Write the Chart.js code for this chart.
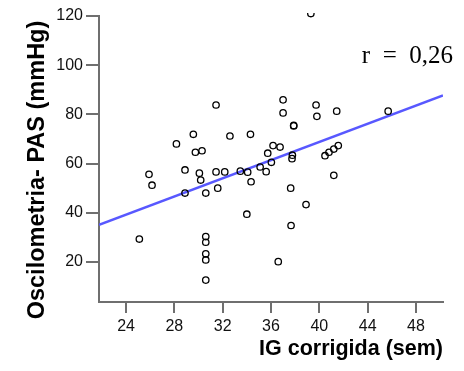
<!DOCTYPE html>
<html>
<head>
<meta charset="utf-8">
<script src="https://cdn.jsdelivr.net/npm/chart.js@4/dist/chart.umd.min.js"></script>
<style>
  body { margin: 0; background: #fff; }
</style>
</head>
<body>
<canvas id="scatter" width="464" height="371"></canvas>
<script>
// IG corrigida (semanas) vs Oscilometria PAS (mmHg)
const igSem = [31.45, 29.57, 28.17, 29.74, 30.29, 32.6, 25.9, 26.15, 28.88, 30.07, 30.18, 31.45, 32.17, 31.59, 28.88, 30.6,
    39.3, 37.0, 37.0, 39.73, 39.8, 41.44, 45.7, 37.88, 37.88, 34.3, 36.17, 36.75, 35.73, 37.77, 37.74, 36.03, 35.1,
    33.46, 34.07, 35.6, 34.35, 37.63, 41.2, 40.47, 40.8, 41.2, 41.57, 25.1, 30.6, 30.6, 30.6, 30.6, 30.6, 38.9, 34.0,
    37.66, 36.6];
const pasMmHg = [83.8, 71.9, 68.0, 64.6, 65.2, 71.2, 55.6, 51.2, 57.4, 56.1, 53.3, 56.6, 56.6, 50.0, 48.0, 48.0,
    121, 85.9, 80.6, 83.8, 79.2, 81.3, 81.3, 75.3, 75.5, 71.9, 67.3, 66.7, 64.2, 63.4, 62.0, 60.5, 58.6,
    56.9, 56.5, 56.7, 52.6, 50.0, 55.2, 63.2, 64.6, 65.9, 67.3, 29.3, 30.3, 28.0, 23.3, 20.8, 12.6, 43.3, 39.4,
    34.8, 20.1];

// reta de regressao (extremos do eixo x)
const fitX = [21.76, 50.24];
const fitY = [35.1, 87.7];

const xTicks = [24, 28, 32, 36, 40, 44, 48];
const yTicks = [20, 40, 60, 80, 100, 120];
const rLabel = 'r  =  0,26';
const yTitle = 'Oscilometria- PAS (mmHg)';

const axisGray = '#6f6f6f';
const tickFont = { family: '"Liberation Sans", Arial, sans-serif', size: 16 };
const titleFont = { family: '"Liberation Sans", Arial, sans-serif', size: 21, weight: 'bold' };

const points = igSem.map((x, i) => ({ x: x, y: pasMmHg[i] }));
const fitLine = fitX.map((x, i) => ({ x: x, y: fitY[i] }));

// textos extras: coeficiente r e titulo do eixo y
const extraText = {
    id: 'extraText',
    afterDraw(chart) {
        const ctx = chart.ctx;
        ctx.save();
        ctx.font = '25px "Liberation Serif", "Times New Roman", serif';
        ctx.fillStyle = '#000';
        ctx.textAlign = 'right';
        ctx.textBaseline = 'alphabetic';
        ctx.fillText(rLabel, 453, 63);

        ctx.translate(38, 170);
        ctx.rotate(-Math.PI / 2);
        ctx.font = 'bold 23.5px "Liberation Sans", Arial, sans-serif';
        ctx.textAlign = 'center';
        ctx.textBaseline = 'middle';
        ctx.fillText(yTitle, 0, 0);
        ctx.restore();
    }
};

new Chart(document.getElementById('scatter'), {
    type: 'scatter',
    data: {
        datasets: [{
            label: 'PAS',
            data: points,
            pointStyle: 'circle',
            pointRadius: 3.2,
            pointBorderWidth: 1.3,
            pointBorderColor: '#000',
            pointBackgroundColor: 'rgba(0,0,0,0)',
            clip: 3,
            order: 1
        }, {
            type: 'line',
            label: 'ajuste',
            data: fitLine,
            borderColor: 'rgb(88,88,255)',
            borderWidth: 2.5,
            pointRadius: 0,
            fill: false,
            order: 2
        }]
    },
    options: {
        responsive: false,
        animation: false,
        layout: { padding: { top: 16, right: 21, bottom: 0, left: 0 } },
        plugins: {
            legend: { display: false },
            tooltip: { enabled: false }
        },
        scales: {
            x: {
                type: 'linear',
                min: 21.76,
                max: 50.24,
                afterFit: s => { s.height = 69; },
                afterBuildTicks: s => { s.ticks = xTicks.map(v => ({ value: v })); },
                grid: { drawOnChartArea: false, drawTicks: true, tickLength: 11, color: axisGray, lineWidth: 2 },
                border: { display: true, color: axisGray, width: 2 },
                ticks: { color: '#111', font: tickFont, padding: 4, maxRotation: 0 },
                title: {
                    display: true,
                    text: 'IG corrigida (sem)',
                    align: 'end',
                    color: '#000',
                    font: { family: titleFont.family, size: 21.5, weight: 'bold' },
                    padding: { top: 0, bottom: 9 }
                }
            },
            y: {
                type: 'linear',
                min: 3.7,
                max: 120,
                afterFit: s => { s.width = 99; },
                afterBuildTicks: s => { s.ticks = yTicks.map(v => ({ value: v })); },
                grid: { drawOnChartArea: false, drawTicks: true, tickLength: 13, color: axisGray, lineWidth: 2 },
                border: { display: true, color: axisGray, width: 2 },
                ticks: { color: '#111', font: tickFont, padding: 3 },
                title: { display: false }
            }
        }
    },
    plugins: [extraText]
});
</script>
</body>
</html>
